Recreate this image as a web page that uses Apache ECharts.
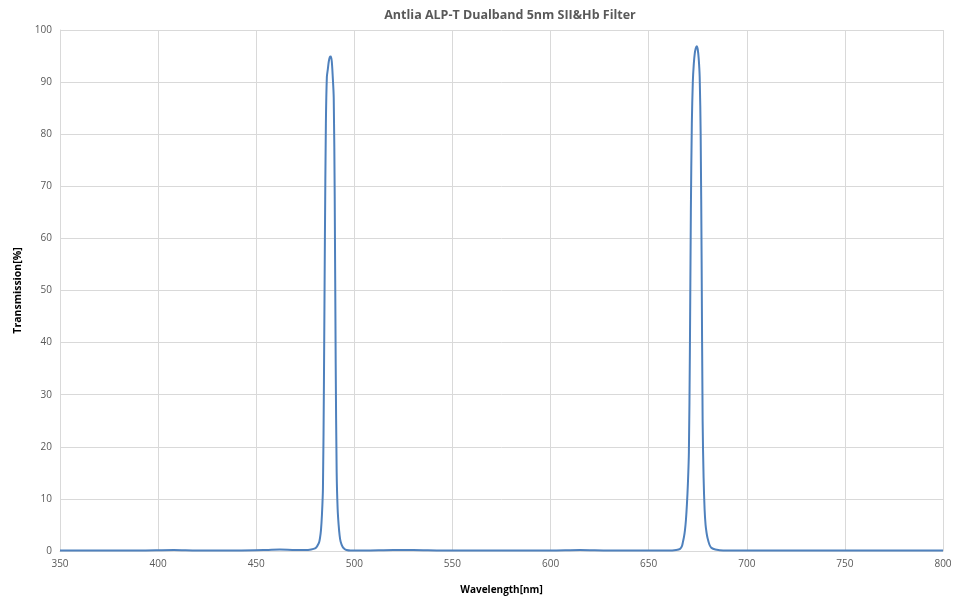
<!DOCTYPE html>
<html>
<head>
<meta charset="utf-8">
<script src="https://cdn.jsdelivr.net/npm/echarts@6/dist/echarts.min.js"></script>
<style>html,body{margin:0;padding:0;background:#fff}#c{width:960px;height:600px}</style>
</head>
<body>
<div id="c"></div>
<script>
const titleText = "Antlia ALP-T Dualband 5nm SII&Hb Filter";
const xName = "Wavelength[nm]";
const yName = "Transmission[%]";

const baseLeftNm = [350, 370, 390, 408, 420, 440, 455, 462, 470, 475, 478, 480, 481, 482];
const baseLeftT  = [0.1, 0.1, 0.1, 0.2, 0.1, 0.1, 0.2, 0.3, 0.2, 0.2, 0.3, 0.5, 0.9, 1.6];

const peak1Nm = [482.5, 483, 483.5, 484, 484.5, 485, 485.5, 486, 486.5, 487, 487.5, 488, 488.5, 489, 489.5, 490, 490.5, 491, 491.5, 492, 492.5, 493, 494, 495, 496, 498];
const peak1T  = [2.5, 4, 7, 12, 32, 60, 82, 91, 92.5, 94, 94.8, 94.9, 94, 91, 87, 68, 36, 15, 8, 5, 3, 1.8, 0.8, 0.4, 0.2, 0.1];

const midNm = [505, 520, 530, 545, 560, 580, 600, 615, 630, 645, 655, 660, 664];
const midT  = [0.1, 0.2, 0.2, 0.1, 0.1, 0.1, 0.1, 0.2, 0.1, 0.1, 0.1, 0.1, 0.2];

const peak2Nm = [666, 667, 667.5, 668, 668.5, 669, 669.5, 670, 670.5, 671, 671.5, 672, 672.5, 673, 673.5, 674, 674.5, 675, 675.5, 676, 676.5, 677, 677.5, 678, 678.5, 679, 679.5, 680, 681, 682, 684, 688];
const peak2T  = [0.4, 1, 1.8, 2.7, 4, 6, 9, 13, 19, 38, 65, 82, 90, 93.5, 95.5, 96.5, 96.9, 96.3, 94.5, 91, 80, 55, 25, 14, 8, 5, 3.5, 2.5, 1.2, 0.6, 0.3, 0.1];

const tailNm = [700, 720, 740, 760, 780, 800];
const tailT  = [0.1, 0.1, 0.1, 0.1, 0.1, 0.1];

const xTicks = { min: 350, max: 800, interval: 50 };
const yTicks = { min: 0, max: 100, interval: 10 };

function pairs(a, b) { return a.map((v, i) => [v, b[i]]); }
const seriesData = [].concat(
  pairs(baseLeftNm, baseLeftT),
  pairs(peak1Nm, peak1T),
  pairs(midNm, midT),
  pairs(peak2Nm, peak2T),
  pairs(tailNm, tailT)
);

const font = "'Open Sans', 'Liberation Sans', sans-serif";
const chart = echarts.init(document.getElementById('c'), null, { renderer: 'canvas' });
chart.setOption({
  animation: false,
  backgroundColor: '#ffffff',
  title: {
    text: titleText,
    left: 505, top: 4, textAlign: 'center',
    textStyle: { fontFamily: font, fontSize: 12.5, fontWeight: 'bold', color: '#595959' }
  },
  grid: { left: 60, right: 17, top: 30, bottom: 48, containLabel: false },
  xAxis: {
    type: 'value', min: xTicks.min, max: xTicks.max, interval: xTicks.interval,
    name: xName, nameLocation: 'middle', nameGap: 34,
    nameTextStyle: { fontFamily: font, fontSize: 10, fontWeight: 'bold', color: '#000000' },
    axisLine: { show: true, lineStyle: { color: '#d9d9d9' } },
    axisTick: { show: false },
    axisLabel: { fontFamily: font, fontSize: 10, color: '#595959', margin: 8 },
    splitLine: { show: true, lineStyle: { color: '#d9d9d9', width: 1 } }
  },
  yAxis: {
    type: 'value', min: yTicks.min, max: yTicks.max, interval: yTicks.interval,
    name: yName, nameLocation: 'middle', nameGap: 33, nameRotate: 90,
    nameTextStyle: { fontFamily: font, fontSize: 10.5, fontWeight: 'bold', color: '#000000' },
    axisLine: { show: true, lineStyle: { color: '#d9d9d9' } },
    axisTick: { show: false },
    axisLabel: { fontFamily: font, fontSize: 10, color: '#595959', margin: 8 },
    splitLine: { show: true, lineStyle: { color: '#d9d9d9', width: 1 } }
  },
  series: [{
    type: 'line',
    data: seriesData,
    showSymbol: false,
    smooth: 0.3,
    lineStyle: { color: '#4f81bd', width: 2 },
    itemStyle: { color: '#4f81bd' }
  }]
});
</script>
</body>
</html>
